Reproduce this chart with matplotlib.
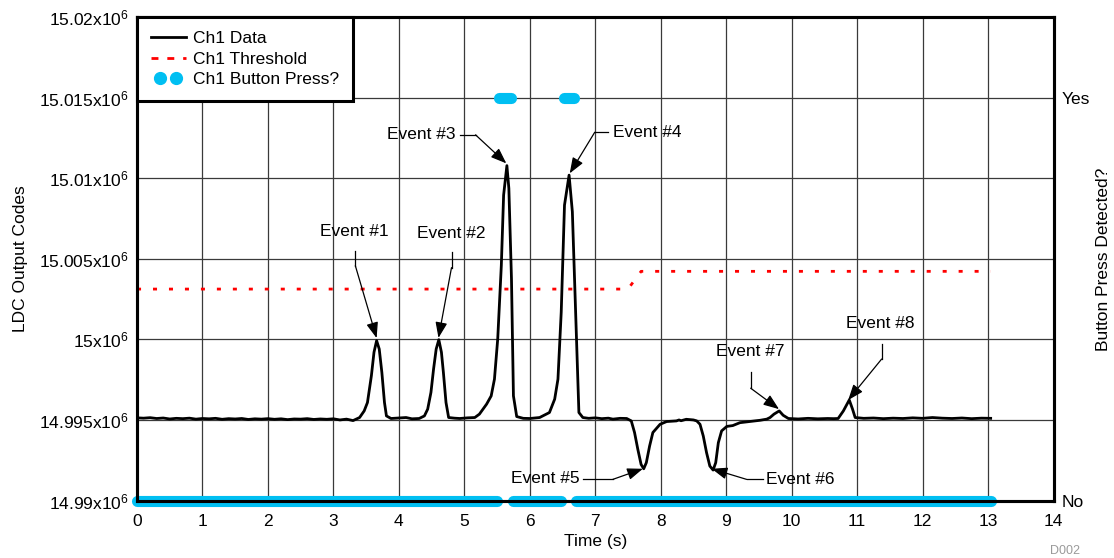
import matplotlib
matplotlib.use("Agg")
import matplotlib.pyplot as plt
from matplotlib.lines import Line2D
from matplotlib.legend_handler import HandlerLine2D
from matplotlib.ticker import FuncFormatter

plt.rcParams["font.family"] = ["Liberation Sans", "DejaVu Sans"]
plt.rcParams["mathtext.default"] = "regular"
plt.rcParams["font.size"] = 12.5


### Ch1 data : LDC output codes vs time (s)
ch1_time = [0.00, 0.10, 0.20, 0.30, 0.40, 0.50, 0.60, 0.70, 0.80, 0.90,
	1.00, 1.10, 1.20, 1.30, 1.40, 1.50, 1.60, 1.70, 1.80, 1.90,
	2.00, 2.10, 2.20, 2.30, 2.40, 2.50, 2.60, 2.70, 2.80, 2.90,
	3.00, 3.10, 3.20, 3.30, 3.40, 3.47, 3.52, 3.58, 3.62, 3.66,
	3.70, 3.74, 3.78, 3.81, 3.88, 4.00, 4.11, 4.20, 4.31, 4.39,
	4.44, 4.49, 4.53, 4.57, 4.61, 4.65, 4.68, 4.72, 4.76, 4.85,
	4.93, 5.05, 5.16, 5.23, 5.34, 5.41, 5.46, 5.51, 5.565, 5.60,
	5.65, 5.68, 5.72, 5.75, 5.80, 5.90, 6.00, 6.15, 6.30, 6.38,
	6.43, 6.48, 6.53, 6.60, 6.65, 6.70, 6.75, 6.81, 6.90, 7.00,
	7.10, 7.20, 7.27, 7.38, 7.48, 7.55, 7.60, 7.65, 7.70, 7.74,
	7.78, 7.83, 7.88, 7.99, 8.09, 8.24, 8.28, 8.31, 8.39, 8.50,
	8.55, 8.60, 8.65, 8.70, 8.75, 8.80, 8.84, 8.88, 8.93, 9.01,
	9.10, 9.21, 9.35, 9.52, 9.62, 9.67, 9.73, 9.81, 9.87, 9.95,
	10.10, 10.25, 10.40, 10.55, 10.64, 10.71, 10.79, 10.88, 10.93, 10.97,
	11.10, 11.25, 11.40, 11.55, 11.70, 11.85, 12.00, 12.15, 12.30, 12.45,
	12.60, 12.75, 12.90, 13.04]
ch1_codes = [14995130, 14995110, 14995140, 14995090, 14995120, 14995060, 14995100, 14995080, 14995110, 14995050,
	14995090, 14995070, 14995100, 14995040, 14995080, 14995060, 14995090, 14995030, 14995070, 14995050,
	14995080, 14995040, 14995070, 14995020, 14995060, 14995050, 14995080, 14995030, 14995060, 14995040,
	14995070, 14995000, 14995050, 14994960, 14995150, 14995560, 14996080, 14997740, 14999200, 14999920,
	14999400, 14997950, 14996080, 14995250, 14995090, 14995120, 14995150, 14995070, 14995090, 14995250,
	14995670, 14996710, 14998160, 14999400, 14999980, 14999200, 14997950, 14996080, 14995150, 14995110,
	14995090, 14995130, 14995150, 14995360, 14995980, 14996490, 14997530, 15000030, 15004590, 15008950,
	15010780, 15009370, 15003760, 14996490, 14995210, 14995100, 14995090, 14995150, 14995460, 14996290,
	14997530, 15001690, 15008330, 15010190, 15007920, 15001690, 14995460, 14995150, 14995100, 14995130,
	14995080, 14995110, 14995050, 14995100, 14995090, 14994940, 14994220, 14993180, 14992240, 14991970,
	14992350, 14993380, 14994220, 14994730, 14994900, 14994940, 14995000, 14994950, 14995040, 14995000,
	14994940, 14994730, 14994000, 14992970, 14992140, 14991890, 14992350, 14993590, 14994320, 14994600,
	14994650, 14994830, 14994900, 14994980, 14995050, 14995150, 14995360, 14995560, 14995290, 14995090,
	14995060, 14995100, 14995070, 14995090, 14995080, 14995090, 14995560, 14996240, 14995670, 14995150,
	14995100, 14995120, 14995080, 14995110, 14995090, 14995130, 14995100, 14995150, 14995110, 14995090,
	14995120, 14995080, 14995110, 14995100]

### Ch1 threshold
thr_time = [0.0, 7.50, 7.70, 13.04]
thr_codes = [15003120, 15003120, 15004220, 15004220]

### Ch1 button press detected (0 = No, 1 = Yes), stored as runs
press_start = [0.00, 5.53, 5.75, 6.53, 6.71]
press_end = [5.50, 5.72, 6.48, 6.67, 13.04]
press_state = [0, 1, 0, 1, 0]

x_ticks = list(range(0, 15))
y_ticks = [14990000, 14995000, 15000000, 15005000, 15010000, 15015000, 15020000]
press_ticks = [0, 1]
press_labels = ["No", "Yes"]
legend_labels = ["Ch1 Data", "Ch1 Threshold", "Ch1 Button Press?"]

### Event callouts : label, text centre, leader start, elbow, arrow tip
event_labels = ["Event #1", "Event #2", "Event #3", "Event #4", "Event #5", "Event #6", "Event #7", "Event #8"]
event_text = [(3.32, 15006690), (4.80, 15006560), (4.34, 15012690), (7.80, 15012850),
	(6.24, 14991370), (10.13, 14991310), (9.36, 14999220), (11.35, 15000960)]
event_start = [(3.335, 15005500), (4.804, 15005440), (4.937, 15012690), (7.196, 15012850),
	(6.808, 14991310), (9.562, 14991310), (9.374, 14997970), (11.375, 14999710)]
event_elbow = [(3.335, 15004570), (4.804, 15004450), (5.171, 15012690), (6.992, 15012850),
	(7.267, 14991310), (9.313, 14991310), (9.374, 14996970), (11.375, 14998780)]
event_tip = [(3.66, 15000080), (4.605, 15000090), (5.641, 15010920), (6.61, 15010300),
	(7.727, 14991970), (8.778, 14991970), (9.807, 14995670), (10.863, 14996230)]

cyan = "#00BFF2"


fig = plt.figure(figsize=(11.14, 5.58), dpi=100)
ax = fig.add_axes([0.123, 0.103, 0.8227, 0.8665])

ax.plot(ch1_time, ch1_codes, color="black", lw=2.0, zorder=3)
ax.plot(thr_time, thr_codes, color="red", lw=2.0, linestyle=(0, (1.45, 4.3)), zorder=3)

ax.set_xlim(0, 14)
ax.set_ylim(14990000, 15020000)
ax.set_xticks(x_ticks)
ax.set_yticks(y_ticks)
ax.yaxis.set_major_formatter(FuncFormatter(lambda v, pos: "%gx10$^6$" % (v / 1e6)))
ax.grid(True, color="#3a3a3a", lw=0.9)
ax.tick_params(axis="x", length=0, pad=10)
ax.tick_params(axis="y", length=0, pad=6)
for s in ax.spines.values():
	s.set_linewidth(2.2)

ax.set_xlabel("Time (s)", labelpad=3)
ax.set_ylabel("LDC Output Codes")
ax.yaxis.set_label_coords(-0.119, 0.5)

### event callouts
for i in range(len(event_labels)):
	ax.text(event_text[i][0], event_text[i][1], event_labels[i], ha="center", va="center", zorder=5)
	ax.plot([event_start[i][0], event_elbow[i][0]], [event_start[i][1], event_elbow[i][1]], color="black", lw=0.9, zorder=5)
	ax.annotate("", xy=event_tip[i], xytext=event_elbow[i],
		arrowprops=dict(arrowstyle="-|>,head_length=0.95,head_width=0.36", color="black", lw=0.9,
			shrinkA=0, shrinkB=0, mutation_scale=10), zorder=5)

### button press axis (right)
ax2 = ax.twinx()
for i in range(len(press_state)):
	ax2.plot([press_start[i], press_end[i]], [press_state[i], press_state[i]], color=cyan, lw=8,
		solid_capstyle="round", clip_on=False, zorder=2)
ax2.set_ylim(0, 1.2)
ax2.set_yticks(press_ticks)
ax2.set_yticklabels(press_labels)
ax2.tick_params(axis="y", length=0, pad=6)
for s in ax2.spines.values():
	s.set_linewidth(2.2)

fig.text(0.991, 0.536, "Button Press Detected?", rotation=90, ha="center", va="center")

handles = [Line2D([], [], color="black", lw=2.0),
	Line2D([], [], color="red", lw=2.0, linestyle=(0, (2.5, 3.2))),
	Line2D([], [], color=cyan, marker="o", ms=8.5, linestyle="none")]
hmap = {handles[0]: HandlerLine2D(marker_pad=0),
	handles[1]: HandlerLine2D(marker_pad=0),
	handles[2]: HandlerLine2D(marker_pad=0.55)}
leg = ax2.legend(handles, legend_labels, handler_map=hmap, loc="upper left", bbox_to_anchor=(0, 1),
	borderaxespad=0, fancybox=False, edgecolor="black", framealpha=1, numpoints=2, handlelength=2.0,
	handletextpad=0.45, labelspacing=0.32, borderpad=0.8)
leg.get_frame().set_linewidth(2.2)

fig.text(0.9556, 0.0125, "D002", color="#9a9a9a", fontsize=9, ha="center", va="center")

plt.savefig("out.png", dpi=100)
